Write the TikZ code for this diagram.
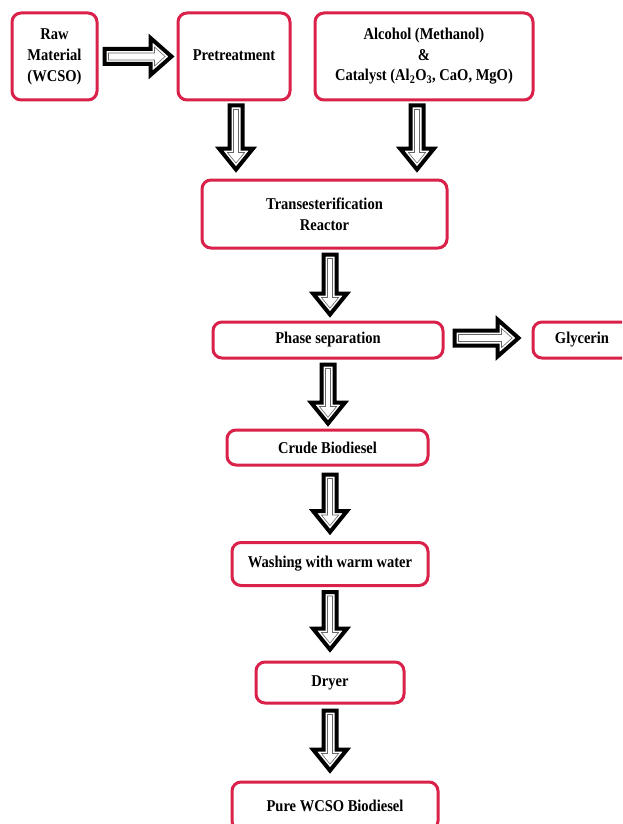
\documentclass[tikz,border=0pt]{standalone}
\usepackage{fontspec}
\setmainfont{Liberation Serif}[FakeStretch=0.88]
\usetikzlibrary{calc}
\definecolor{boxred}{HTML}{D9214A}
\tikzset{
  box/.style={draw=boxred, line width=3pt, rounded corners=9pt, fill=white, align=center,
    font=\bfseries\fontsize{16.5}{21}\selectfont, inner sep=0pt},
  arrowbody/.style={draw=black, line width=4pt, fill=white, line join=miter},
  arrowinner/.style={draw=black!60, line width=0.6pt, line join=miter}
}
\newcommand{\varr}[2]{%
  \draw[arrowbody] ($(#1)+(-6.5,0)$) -- ($(#1)+(6.5,0)$) -- ($(#2)+(6.5,-21)$) -- ($(#2)+(17,-21)$) -- (#2) -- ($(#2)+(-17,-21)$) -- ($(#2)+(-6.5,-21)$) -- cycle;
  \draw[arrowinner] ($(#1)+(-2.5,4)$) -- ($(#1)+(2.5,4)$) -- ($(#2)+(2.5,-17)$) -- ($(#2)+(8.6,-17)$) -- ($(#2)+(0,-6.4)$) -- ($(#2)+(-8.6,-17)$) -- ($(#2)+(-2.5,-17)$) -- cycle;
}
\newcommand{\harr}[2]{%
  \draw[arrowbody] ($(#1)+(0,-7.5)$) -- ($(#1)+(0,7.5)$) -- ($(#2)+(-21,7.5)$) -- ($(#2)+(-21,18.5)$) -- (#2) -- ($(#2)+(-21,-18.5)$) -- ($(#2)+(-21,-7.5)$) -- cycle;
  \draw[arrowinner] ($(#1)+(4,-3.5)$) -- ($(#1)+(4,3.5)$) -- ($(#2)+(-17,3.5)$) -- ($(#2)+(-17,9.5)$) -- ($(#2)+(-6.4,0)$) -- ($(#2)+(-17,-9.5)$) -- ($(#2)+(-17,-3.5)$) -- cycle;
}
\begin{document}
\begin{tikzpicture}[x=1pt, y=-1pt]
\fill[white] (0,0) rectangle (622,824);
\useasboundingbox (0,0) rectangle (622,824);
\begin{scope}
\clip (0,0) rectangle (622,824);
\node[box, minimum width=85pt, minimum height=87pt] (raw) at (54.5,56.5) {Raw\\Material\\(WCSO)};
\node[box, minimum width=112pt, minimum height=87pt] (pre) at (234,56.5) {\raisebox{3.5pt}{Pretreatment}};
\node[box, minimum width=218pt, minimum height=87pt, font=\bfseries\fontsize{16.5}{20.5}\selectfont] (alc) at (424,56.5) {Alcohol (Methanol)\\\&\\Catalyst (Al\textsubscript{2}O\textsubscript{3}, CaO, MgO)};
\node[box, minimum width=245pt, minimum height=68pt] (trans) at (324.5,214) {Transesterification\\Reactor};
\node[box, minimum width=230pt, minimum height=36pt] (phase) at (328,340) {Phase separation};
\node[box, minimum width=98pt, minimum height=36pt] (gly) at (582,340) {Glycerin};
\node[box, minimum width=201pt, minimum height=35pt] (crude) at (327.5,447.5) {Crude Biodiesel};
\node[box, minimum width=196pt, minimum height=43pt] (wash) at (330,564) {Washing with warm water};
\node[box, minimum width=148pt, minimum height=41pt] (dryer) at (330,682.5) {Dryer};
\node[box, minimum width=206pt, minimum height=48pt] (pure) at (335,806) {Pure WCSO Biodiesel};
\end{scope}

% horizontal arrows
\path ($(raw.east)+(6,0)$) coordinate (h1s) ($(pre.west)+(-5,0)$) coordinate (h1t);
\harr{h1s}{h1t}
\path ($(phase.east)+(10,-2)$) coordinate (h2s) ($(gly.west)+(-13,-2)$) coordinate (h2t);
\harr{h2s}{h2t}

% vertical arrows
\path ($(pre.south)+(2,4)$) coordinate (a1) ($(trans.north)+(0,-9)$) coordinate (b1);
\coordinate (t1) at (a1 |- b1);
\varr{a1}{t1}
\path ($(alc.south)+(-7,4)$) coordinate (a2) ($(trans.north)+(0,-9)$) coordinate (b2);
\coordinate (t2) at (a2 |- b2);
\varr{a2}{t2}
\path ($(trans.south)+(5.5,5)$) coordinate (a3) ($(phase.north)+(0,-6)$) coordinate (b3);
\coordinate (t3) at (a3 |- b3);
\varr{a3}{t3}
\path ($(phase.south)+(0,5)$) coordinate (a4) ($(crude.north)+(0,-5)$) coordinate (b4);
\coordinate (t4) at (a4 |- b4);
\varr{a4}{t4}
\path ($(crude.south)+(2.5,8)$) coordinate (a5) ($(wash.north)+(0,-9)$) coordinate (b5);
\coordinate (t5) at (a5 |- b5);
\varr{a5}{t5}
\path ($(wash.south)+(0,5)$) coordinate (a6) ($(dryer.north)+(0,-11)$) coordinate (b6);
\coordinate (t6) at (a6 |- b6);
\varr{a6}{t6}
\path ($(dryer.south)+(0,6)$) coordinate (a7) ($(pure.north)+(0,-10)$) coordinate (b7);
\coordinate (t7) at (a7 |- b7);
\varr{a7}{t7}
\end{tikzpicture}
\end{document}
